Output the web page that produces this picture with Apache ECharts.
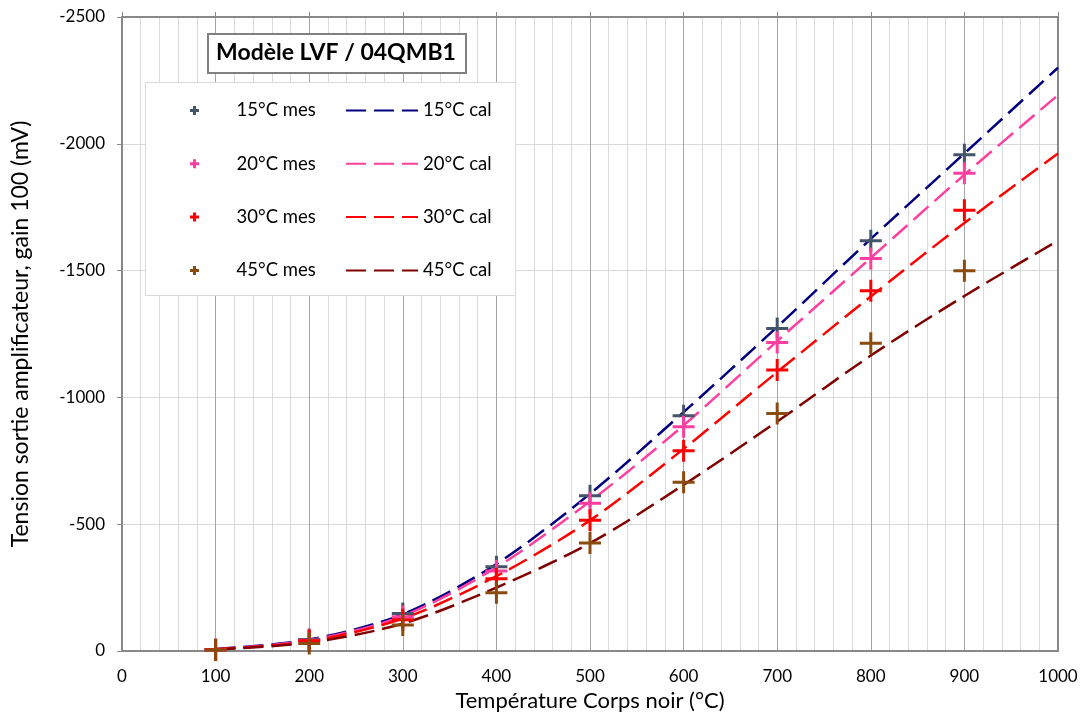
<!DOCTYPE html>
<html>
<head>
<meta charset="utf-8">
<script src="https://cdn.jsdelivr.net/npm/echarts@6/dist/echarts.min.js"></script>
<style>
html,body{margin:0;padding:0;background:#fff;}
#chart{width:1084px;height:715px;}
</style>
</head>
<body>
<div id="chart"></div>
<script>
// ---- data ----
const measX = [100, 200, 300, 400, 500, 600, 700, 800, 900];
const mes15 = [-5, -45, -148, -332, -612, -928, -1272, -1618, -1957];
const mes20 = [-5, -42, -135, -315, -583, -884, -1216, -1548, -1884];
const mes30 = [-5, -40, -123, -285, -516, -790, -1108, -1421, -1738];
const mes45 = [-4, -30, -103, -230, -426, -665, -937, -1214, -1499];

const calX = [100, 200, 300, 400, 500, 600, 700, 800, 900, 1000];
const cal15 = [-8, -45, -145, -343, -620, -942, -1278, -1625, -1962, -2300];
const cal20 = [-7, -42, -138, -330, -590, -890, -1222, -1550, -1878, -2192];
const cal30 = [-7, -38, -128, -295, -515, -797, -1100, -1398, -1688, -1962];
const cal45 = [-6, -33, -108, -250, -425, -655, -905, -1165, -1400, -1618];

const mesNames = ['15°C mes', '20°C mes', '30°C mes', '45°C mes'];
const calNames = ['15°C cal', '20°C cal', '30°C cal', '45°C cal'];
const mesColors = ['#44546A', '#FF3FA0', '#FF0000', '#8B4A0E'];
const calColors = ['#000080', '#FF3FA0', '#FF0000', '#800000'];

const xTicks = [0, 100, 200, 300, 400, 500, 600, 700, 800, 900, 1000];
const yTicks = [0, -500, -1000, -1500, -2000, -2500];

const chartTitle = 'Modèle LVF / 04QMB1';
const xTitle = 'Température Corps noir (°C)';
const yTitle = 'Tension sortie amplificateur, gain 100 (mV)';

// ---- chart ----
const FONT = 'Lato';
const plus = 'path://M0,9.5H9.5V0H12.5V9.5H22V12.5H12.5V22H9.5V12.5H0Z';
const plusLegend = 'path://M0,3H3V0H6V3H9V6H6V9H3V6H0Z';
const zip = (xs, ys) => xs.map((x, i) => [x, ys[i]]);
const mesData = [mes15, mes20, mes30, mes45];
const calData = [cal15, cal20, cal30, cal45];

const series = [];
calData.forEach((d, i) => {
  series.push({
    name: calNames[i], type: 'line', data: zip(calX, d), smooth: 0.3,
    symbol: 'none', showSymbol: false, z: 3,
    lineStyle: { color: calColors[i], width: 2.5, type: [20, 8] },
    itemStyle: { color: calColors[i] }
  });
});
mesData.forEach((d, i) => {
  series.push({
    name: mesNames[i], type: 'scatter', data: zip(measX, d),
    symbol: plus, symbolSize: 22, z: 4,
    itemStyle: { color: mesColors[i], opacity: 1 }
  });
});

const axisGray = '#898989';
const option = {
  animation: false,
  textStyle: { fontFamily: FONT },
  grid: { left: 122, right: 26, top: 17, bottom: 64, outerBoundsMode: 'none', containLabel: false },
  xAxis: [{
    type: 'value', min: 0, max: 1000, interval: 100, position: 'bottom',
    axisLine: { show: true, onZero: false, lineStyle: { color: axisGray, width: 2 } },
    axisTick: { show: false },
    axisLabel: { color: '#000', fontSize: 17, fontFamily: FONT, margin: 17,
      formatter: v => xTicks.includes(v) ? String(v) : '' },
    splitLine: { show: true, lineStyle: { color: '#A6A6A6', width: 1 } },
    minorTick: { show: false, splitNumber: 5 },
    minorSplitLine: { show: true, lineStyle: { color: '#D9D9D9', width: 1 } },
    name: xTitle, nameLocation: 'middle', nameGap: 38,
    nameTextStyle: { color: '#000', fontSize: 22, fontFamily: FONT }
  }, {
    type: 'value', min: 0, max: 1000, interval: 100, position: 'top',
    axisLine: { show: true, onZero: false, lineStyle: { color: axisGray, width: 2 } },
    axisTick: { show: true, inside: false, length: 5, lineStyle: { color: axisGray } },
    axisLabel: { show: false }, splitLine: { show: false }
  }],
  yAxis: [{
    type: 'value', min: -2500, max: 0, interval: 500, inverse: true,
    axisLine: { show: true, onZero: false, lineStyle: { color: axisGray, width: 2 } },
    axisTick: { show: true, length: 5, lineStyle: { color: axisGray } },
    axisLabel: { color: '#000', fontSize: 17, fontFamily: FONT, margin: 17,
      formatter: v => yTicks.includes(v) ? String(v) : '' },
    splitLine: { show: true, lineStyle: { color: '#D9D9D9', width: 1 } },
    name: yTitle, nameLocation: 'middle', nameGap: 90, nameRotate: 90,
    nameTextStyle: { color: '#000', fontSize: 23, fontFamily: FONT }
  }, {
    type: 'value', min: -2500, max: 0, interval: 500, inverse: true, position: 'right',
    axisLine: { show: true, onZero: false, lineStyle: { color: axisGray, width: 2 } },
    axisTick: { show: false }, axisLabel: { show: false }, splitLine: { show: false }
  }],
  legend: [{
    orient: 'vertical', left: 185, top: 96,
    itemWidth: 74, itemHeight: 9, itemGap: 34.3,
    symbolKeepAspect: true,
    textStyle: { color: '#000', fontSize: 18.5, fontFamily: FONT, lineHeight: 17 },
    data: mesNames.map(n => ({ name: n, icon: plusLegend }))
  }, {
    orient: 'vertical', left: 340, top: 96,
    itemWidth: 72, itemHeight: 14, itemGap: 34.3,
    itemStyle: { opacity: 0 },
    textStyle: { color: '#000', fontSize: 18.5, fontFamily: FONT, lineHeight: 17 },
    data: calNames
  }],
  graphic: [{
    type: 'rect', left: 145, top: 82, z: 1,
    shape: { width: 370, height: 213 },
    style: { fill: '#fff', stroke: '#D9D9D9', lineWidth: 1 }
  }, {
    type: 'rect', left: 207, top: 33, z: 100,
    shape: { width: 258, height: 39 },
    style: { fill: '#fff', stroke: '#808080', lineWidth: 2 }
  }, {
    type: 'text', x: 336, y: 53, z: 101,
    style: { text: chartTitle, fill: '#000', fontFamily: FONT, fontSize: 23, fontWeight: 'bold',
      align: 'center', verticalAlign: 'middle' }
  }],
  series: series
};

const chart = echarts.init(document.getElementById('chart'));
chart.setOption(option);
</script>
</body>
</html>
